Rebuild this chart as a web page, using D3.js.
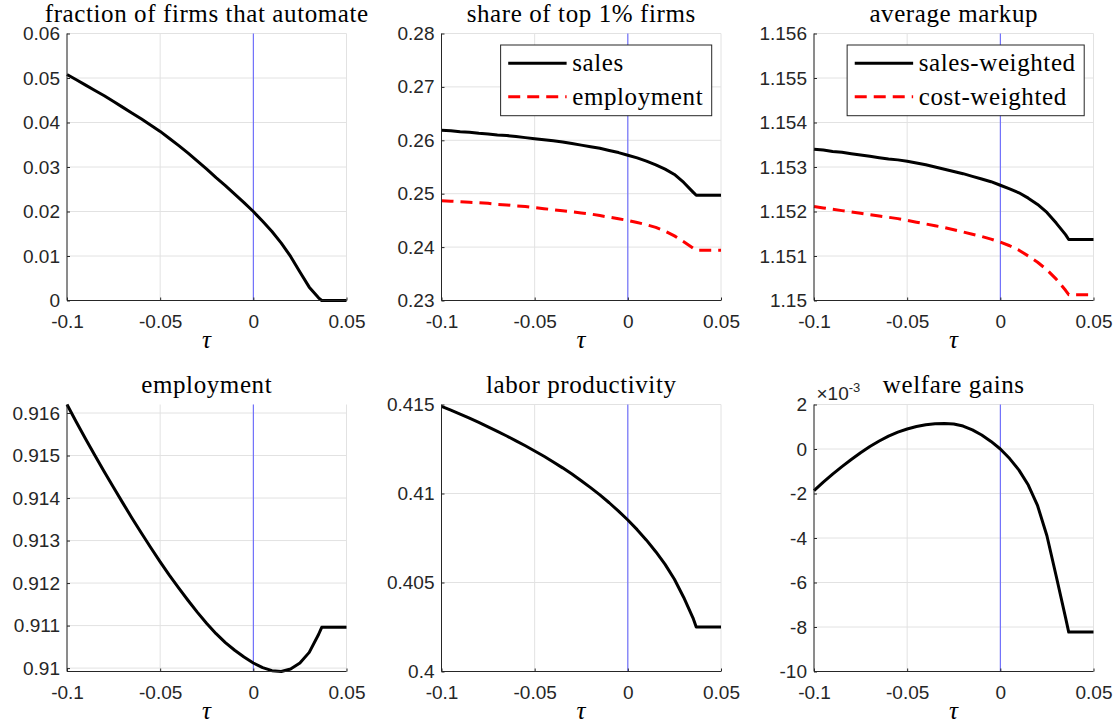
<!DOCTYPE html>
<html>
<head>
<meta charset="utf-8">
<script src="https://cdn.jsdelivr.net/npm/d3@7"></script>
<style>
    body { margin: 0; background: #fff; }
    svg { display: block; }
    .serif { font-family: "Liberation Serif", "Times New Roman", serif; font-size: 25px; letter-spacing: 0.6px; fill: #000; }
</style>
</head>
<body>
<svg id="chart" width="1115" height="727"></svg>
<script>
// tax rate on automation (x axis of every panel)
const tau = [
    -0.100, -0.095, -0.090, -0.085, -0.080, -0.075, -0.070, -0.065, -0.060, -0.055,
    -0.050, -0.045, -0.040, -0.035, -0.030, -0.025, -0.020, -0.015, -0.010, -0.005,
    0.000, 0.005, 0.010, 0.015, 0.020, 0.025, 0.030, 0.035,
    0.0367, 0.050
];

const fracAutomate = [
    0.0508, 0.0496, 0.0484, 0.0472, 0.0460, 0.0447, 0.0434, 0.0421, 0.0408, 0.0394,
    0.0380, 0.0364, 0.0348, 0.0331, 0.0313, 0.0295, 0.0276, 0.0258, 0.0239, 0.0220,
    0.0200, 0.0178, 0.0155, 0.0129, 0.0099, 0.0064, 0.0030, 0.0006,
    0, 0
];

const topShareSales = [
    0.2619, 0.2618, 0.2616, 0.2615, 0.2613, 0.2612, 0.2610, 0.2609, 0.2607, 0.2605,
    0.2603, 0.2601, 0.2599, 0.2597, 0.2594, 0.2591, 0.2588, 0.2585, 0.2581, 0.2577,
    0.2572, 0.2567, 0.2561, 0.2554, 0.2546, 0.2536, 0.2521, 0.2503,
    0.2497, 0.2497
];

const topShareEmployment = [
    0.2487, 0.2486, 0.2485, 0.2484, 0.2483, 0.2482, 0.2480, 0.2479, 0.2477, 0.2476,
    0.2474, 0.2472, 0.2470, 0.2468, 0.2466, 0.2464, 0.2462, 0.2459, 0.2456, 0.2453,
    0.2450, 0.2446, 0.2442, 0.2437, 0.2430, 0.2421, 0.2410, 0.2398,
    0.2394, 0.2394
];

const markupSales = [
    1.15340, 1.15338, 1.15335, 1.15333, 1.15330, 1.15327, 1.15324, 1.15321, 1.15318, 1.15316,
    1.15313, 1.15309, 1.15305, 1.15300, 1.15295, 1.15290, 1.15285, 1.15279, 1.15273, 1.15267,
    1.15259, 1.15251, 1.15242, 1.15230, 1.15216, 1.15198, 1.15174, 1.15148,
    1.15137, 1.15137
];

const markupCost = [
    1.15211, 1.15208, 1.15205, 1.15202, 1.15199, 1.15196, 1.15193, 1.15190, 1.15187, 1.15184,
    1.15180, 1.15176, 1.15172, 1.15168, 1.15164, 1.15159, 1.15154, 1.15149, 1.15144, 1.15138,
    1.15131, 1.15123, 1.15113, 1.15100, 1.15086, 1.15069, 1.15048, 1.15023,
    1.15013, 1.15013
];

const employment = [
    0.91620, 0.91579, 0.91539, 0.91500, 0.91462, 0.91425, 0.91388, 0.91352, 0.91317, 0.91283,
    0.91250, 0.91218, 0.91188, 0.91159, 0.91131, 0.91105, 0.91081, 0.91060, 0.91042, 0.91026,
    0.91012, 0.91001, 0.90994, 0.90992, 0.90998, 0.91012, 0.91037, 0.91079,
    0.91096, 0.91096
];

const laborProductivity = [
    0.41489, 0.41468, 0.41446, 0.41423, 0.41399, 0.41374, 0.41349, 0.41323, 0.41296, 0.41268,
    0.41239, 0.41209, 0.41177, 0.41144, 0.41109, 0.41072, 0.41033, 0.40992, 0.40948, 0.40901,
    0.40851, 0.40797, 0.40738, 0.40673, 0.40602, 0.40518, 0.40416, 0.40300,
    0.40250, 0.40250
];

// in units of 10^-3
const welfareGains = [
    -1.87, -1.49, -1.13, -0.79, -0.47, -0.17, 0.11, 0.36, 0.58, 0.76,
    0.90, 1.01, 1.09, 1.13, 1.15, 1.12, 1.03, 0.86, 0.63, 0.34,
    0, -0.43, -0.95, -1.62, -2.55, -3.90, -5.72, -7.58,
    -8.23, -8.23
];

const xTicks = [-0.1, -0.05, 0, 0.05];
const xTickLabels = ["-0.1", "-0.05", "0", "0.05"];

const fracTicks = [0, 0.01, 0.02, 0.03, 0.04, 0.05, 0.06];
const fracTickLabels = ["0", "0.01", "0.02", "0.03", "0.04", "0.05", "0.06"];
const shareTicks = [0.23, 0.24, 0.25, 0.26, 0.27, 0.28];
const shareTickLabels = ["0.23", "0.24", "0.25", "0.26", "0.27", "0.28"];
const markupTicks = [1.15, 1.151, 1.152, 1.153, 1.154, 1.155, 1.156];
const markupTickLabels = ["1.15", "1.151", "1.152", "1.153", "1.154", "1.155", "1.156"];
const emplTicks = [0.91, 0.911, 0.912, 0.913, 0.914, 0.915, 0.916];
const emplTickLabels = ["0.91", "0.911", "0.912", "0.913", "0.914", "0.915", "0.916"];
const prodTicks = [0.4, 0.405, 0.41, 0.415];
const prodTickLabels = ["0.4", "0.405", "0.41", "0.415"];
const welfareTicks = [-10, -8, -6, -4, -2, 0, 2];
const welfareTickLabels = ["-10", "-8", "-6", "-4", "-2", "0", "2"];

const plotW = 279.5;
const plotH = 267;
const colLeft = [67, 441.5, 814];
const rowTop = [33.5, 404.5];
const axisColor = "#262626";
const gridColor = "#e2e2e2";
const tickFont = '"Liberation Sans", Arial, Helvetica, sans-serif';
const tickSize = 19;

const panels = [
    {
        title: "fraction of firms that automate", col: 0, row: 0,
        yDomain: [0, 0.06], yTicks: fracTicks, yTickLabels: fracTickLabels,
        series: [{ values: fracAutomate, color: "#000" }]
    },
    {
        title: "share of top 1% firms", col: 1, row: 0,
        yDomain: [0.23, 0.28], yTicks: shareTicks, yTickLabels: shareTickLabels,
        series: [
            { values: topShareSales, color: "#000", name: "sales" },
            { values: topShareEmployment, color: "#ff0000", dash: "12,7", name: "employment" }
        ],
        legend: true
    },
    {
        title: "average markup", col: 2, row: 0,
        yDomain: [1.15, 1.156], yTicks: markupTicks, yTickLabels: markupTickLabels,
        series: [
            { values: markupSales, color: "#000", name: "sales-weighted" },
            { values: markupCost, color: "#ff0000", dash: "12,7", name: "cost-weighted" }
        ],
        legend: true
    },
    {
        title: "employment", col: 0, row: 1,
        yDomain: d3.extent(employment), yTicks: emplTicks, yTickLabels: emplTickLabels,
        series: [{ values: employment, color: "#000" }]
    },
    {
        title: "labor productivity", col: 1, row: 1,
        yDomain: [0.4, 0.415], yTicks: prodTicks, yTickLabels: prodTickLabels,
        series: [{ values: laborProductivity, color: "#000" }]
    },
    {
        title: "welfare gains", col: 2, row: 1,
        yDomain: [-10, 2], yTicks: welfareTicks, yTickLabels: welfareTickLabels,
        series: [{ values: welfareGains, color: "#000" }],
        exponent: "-3"
    }
];

const svg = d3.select("#chart");

function drawLegend(g, p, left, top) {
    const right = left + plotW - 9.3;
    const boxTop = top + 11.5;
    const leg = g.append("g");
    const box = leg.append("rect")
        .attr("y", boxTop)
        .attr("height", 70.7)
        .attr("fill", "#fff")
        .attr("stroke", axisColor)
        .attr("stroke-width", 1);

    const rows = p.series.map((s, i) => {
        const yy = boxTop + 18.3 + i * 33.4;
        const line = leg.append("line")
            .attr("y1", yy).attr("y2", yy)
            .attr("stroke", s.color)
            .attr("stroke-width", 3)
            .attr("stroke-dasharray", s.dash || null);
        const text = leg.append("text")
            .attr("class", "serif")
            .attr("y", yy + 8)
            .text(s.name);
        return { line, text };
    });

    const maxW = d3.max(rows, r => r.text.node().getComputedTextLength());
    const boxW = 71.6 + maxW + 8.5;
    const boxLeft = right - boxW;
    box.attr("x", boxLeft).attr("width", boxW);
    rows.forEach(r => {
        r.line.attr("x1", boxLeft + 7.6).attr("x2", boxLeft + 66);
        r.text.attr("x", boxLeft + 71.6);
    });
}

function drawPanel(p) {
    const left = colLeft[p.col];
    const top = rowTop[p.row];

    const x = d3.scaleLinear().domain([-0.1, 0.05]).range([left, left + plotW]);
    const y = d3.scaleLinear().domain(p.yDomain).range([top + plotH, top]);

    const g = svg.append("g");

    // grid
    g.append("g").selectAll("line")
        .data(xTicks)
        .join("line")
        .attr("x1", d => x(d)).attr("x2", d => x(d))
        .attr("y1", top).attr("y2", top + plotH)
        .attr("stroke", gridColor).attr("stroke-width", 1);
    g.append("g").selectAll("line")
        .data(p.yTicks)
        .join("line")
        .attr("x1", left).attr("x2", left + plotW)
        .attr("y1", d => y(d)).attr("y2", d => y(d))
        .attr("stroke", gridColor).attr("stroke-width", 1);

    // tau = 0 reference line
    g.append("line")
        .attr("x1", x(0)).attr("x2", x(0))
        .attr("y1", top).attr("y2", top + plotH)
        .attr("stroke", "#5c5cff").attr("stroke-width", 1);

    const line = d3.line()
        .x((d, i) => x(tau[i]))
        .y(d => y(d));

    p.series.forEach(s => {
        g.append("path")
            .datum(s.values)
            .attr("d", line)
            .attr("fill", "none")
            .attr("stroke", s.color)
            .attr("stroke-width", 3)
            .attr("stroke-linejoin", "round")
            .attr("stroke-dasharray", s.dash || null);
    });

    const xAxis = d3.axisBottom(x)
        .tickValues(xTicks)
        .tickFormat((d, i) => xTickLabels[i])
        .tickSizeInner(-3)
        .tickSizeOuter(0)
        .tickPadding(14);
    const yAxis = d3.axisLeft(y)
        .tickValues(p.yTicks)
        .tickFormat((d, i) => p.yTickLabels[i])
        .tickSizeInner(-3)
        .tickSizeOuter(0)
        .tickPadding(7);

    g.append("g")
        .attr("transform", `translate(0,${top + plotH})`)
        .call(xAxis)
        .call(a => a.select(".domain").attr("d", `M${left},0H${left + plotW}`))
        .call(a => a.selectAll("path, line").attr("stroke", axisColor))
        .call(a => a.selectAll("text").attr("fill", axisColor))
        .attr("font-family", tickFont)
        .attr("font-size", tickSize);

    g.append("g")
        .attr("transform", `translate(${left},0)`)
        .call(yAxis)
        .call(a => a.select(".domain").attr("d", `M0,${top}V${top + plotH}`))
        .call(a => a.selectAll("path, line").attr("stroke", axisColor))
        .call(a => a.selectAll("text").attr("fill", axisColor))
        .attr("font-family", tickFont)
        .attr("font-size", tickSize);

    // title
    g.append("text")
        .attr("class", "serif")
        .attr("x", left + plotW / 2)
        .attr("y", top - 11.5)
        .attr("text-anchor", "middle")
        .text(p.title);

    // x label
    g.append("text")
        .attr("class", "serif")
        .attr("x", left + plotW / 2)
        .attr("y", top + plotH + 47.5)
        .attr("text-anchor", "middle")
        .attr("font-style", "italic")
        .text("τ");

    if (p.exponent) {
        const ex = g.append("text")
            .attr("x", left + 2.5)
            .attr("y", top - 4.5)
            .attr("font-family", tickFont)
            .attr("font-size", tickSize)
            .attr("fill", axisColor);
        ex.append("tspan").text("×10");
        ex.append("tspan").attr("dy", -8).attr("font-size", 13).text(p.exponent);
    }

    if (p.legend) drawLegend(g, p, left, top);
}

panels.forEach(drawPanel);
</script>
</body>
</html>
